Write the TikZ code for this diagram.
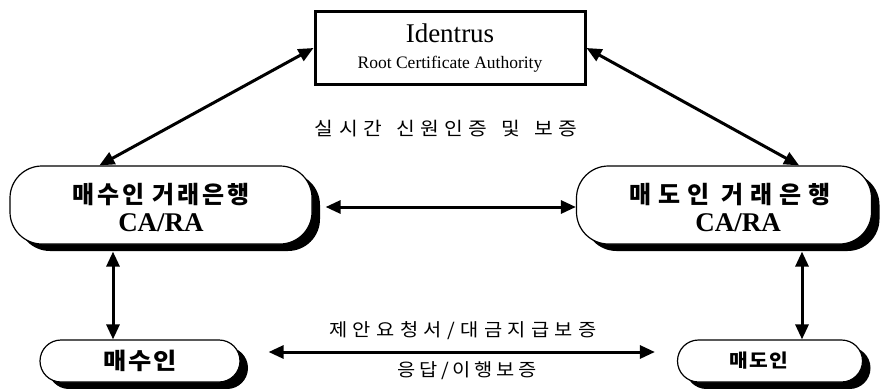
\documentclass[tikz,border=0pt]{standalone}
\usepackage{fontspec}
\setmainfont{Liberation Serif}
\usetikzlibrary{arrows.meta,shadows,calc}
\newfontfamily\krbank{Noto Sans CJK KR}[LetterSpace=12]
\newfontfamily\krbankR{Noto Sans CJK KR}[LetterSpace=28]
\newfontfamily\krparty{Noto Sans CJK KR}[FakeStretch=1.1,LetterSpace=8]
\newfontfamily\krlabel{Noto Sans CJK KR}[FakeStretch=1.1,LetterSpace=30]
\newfontfamily\krlabelb{Noto Sans CJK KR}[FakeStretch=1.1,LetterSpace=20]
\begin{document}
\begin{tikzpicture}[x=1pt,y=-1pt,
  idbox/.style={draw, line width=3pt, fill=white, minimum width=270pt, minimum height=73pt, align=center, inner sep=0pt},
  pill/.style={draw, line width=1.2pt, fill=white, rounded corners=#1, align=center, inner sep=0pt,
    drop shadow={shadow xshift=8pt, shadow yshift=-7pt, fill=black, opacity=1}},
  link/.style={line width=3pt, {Triangle[length=15pt,width=13pt]}-{Triangle[length=15pt,width=13pt]}},
  lbl/.style={inner sep=0pt}]
\useasboundingbox (0,0) rectangle (885,388);

\node[idbox] (id) at (450,48) {\fontsize{27}{28}\selectfont Identrus\\[12pt]\fontsize{17.5}{20}\selectfont Root Certificate Authority};

\node[lbl] (t1) at (446,129) {\krlabel\fontsize{18.5}{20}\selectfont 실시간\hspace{14pt}신원인증\hspace{14pt}및\hspace{14pt}보증};

\node[pill=32pt, minimum width=302pt, minimum height=78pt] (lb) at (161,205)
  {{\rule{0pt}{26pt}\krbank\bfseries\fontsize{24}{26}\selectfont 매수인 거래은행}\\[7pt]{\bfseries\fontsize{27}{30}\selectfont CA/RA}};
\node[pill=32pt, minimum width=295pt, minimum height=78pt] (rb) at (724,205)
  {{\rule{0pt}{26pt}\hspace*{12pt}\krbankR\bfseries\fontsize{24}{26}\selectfont 매도인 거래은행}\\[7pt]{\hspace*{28pt}\bfseries\fontsize{27}{30}\selectfont CA/RA}};

\node[pill=21pt, minimum width=200pt, minimum height=42pt] (buy) at (140,361)
  {\krparty\bfseries\fontsize{23}{25}\selectfont 매수인};
\node[pill=21pt, minimum width=185pt, minimum height=42pt] (sel) at (770,361)
  {\hspace*{-22pt}\krparty\bfseries\fontsize{18.5}{21}\selectfont 매도인};

\node[lbl] (t2) at (463,331) {\krlabel\fontsize{18}{20}\selectfont 제안요청서/대금지급보증};
\node[lbl] (t3) at (467,371) {\krlabelb\fontsize{18}{20}\selectfont 응답/이행보증};

\draw[link] (id.west) -- ([xshift=90pt]lb.north west);
\draw[link] (id.east) -- ([xshift=-73pt]rb.north east);
\draw[link] ([xshift=13pt,yshift=-2pt]lb.east) -- ([yshift=-2pt]rb.west);
\draw[link] ([xshift=-48pt,yshift=-7pt]lb.south) -- ([xshift=-27pt]buy.north);
\draw[link] ([xshift=78pt,yshift=-7pt]rb.south) -- ([xshift=32pt]sel.north);
\draw[link] ([xshift=28pt,yshift=9pt]buy.east) -- ([xshift=-22pt,yshift=9pt]sel.west);
\end{tikzpicture}
\end{document}
